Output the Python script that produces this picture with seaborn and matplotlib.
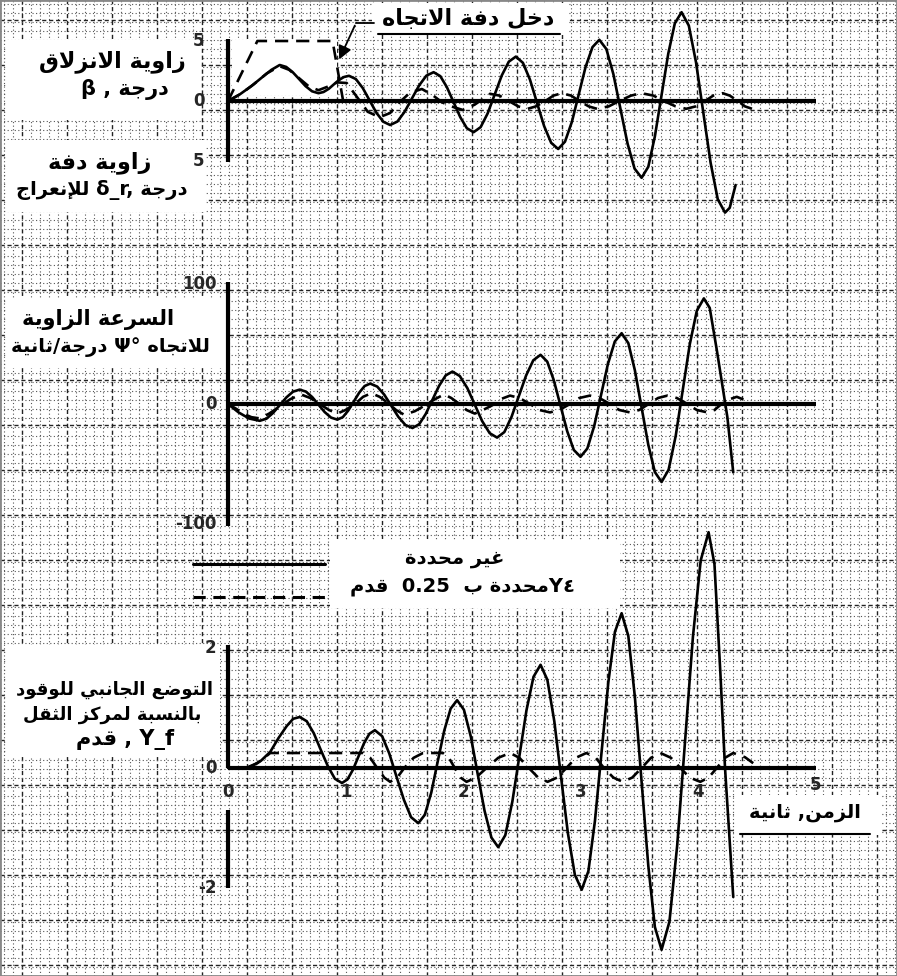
import re
import matplotlib
matplotlib.use('Agg')
import matplotlib.pyplot as plt
from matplotlib.patches import Rectangle
import numpy as np
import seaborn as sns

# ============================================================
# 1. DATA
# ============================================================

# top panel: sideslip angle beta (deg), fuel free
BETA_T = [0, 0.1, 0.2, 0.3, 0.37, 0.44,
          0.495, 0.55, 0.605, 0.66, 0.715, 0.77,
          0.813, 0.857, 0.90, 0.943, 0.987, 1.03,
          1.088, 1.147, 1.205, 1.263, 1.322, 1.38,
          1.442, 1.503, 1.565, 1.627, 1.688, 1.75,
          1.807, 1.863, 1.92, 1.977, 2.033, 2.09,
          2.15, 2.21, 2.27, 2.33, 2.39, 2.45,
          2.51, 2.57, 2.63, 2.69, 2.75, 2.81,
          2.868, 2.927, 2.985, 3.043, 3.102, 3.16,
          3.22, 3.28, 3.34, 3.40, 3.46, 3.52,
          3.577, 3.633, 3.69, 3.747, 3.803, 3.86,
          3.922, 3.983, 4.045, 4.107, 4.168, 4.23,
          4.27, 4.32]
BETA_FREE = [0, 0.55, 1.25, 2.05, 2.6, 3.0,
             2.84, 2.41, 1.83, 1.24, 0.81, 0.65,
             0.75, 1.01, 1.38, 1.74, 2.0, 2.1,
             1.83, 1.08, 0.05, -0.98, -1.73, -2.0,
             -1.71, -0.9, 0.2, 1.3, 2.11, 2.4,
             2.07, 1.15, -0.1, -1.35, -2.27, -2.6,
             -2.18, -1.03, 0.55, 2.13, 3.28, 3.7,
             3.18, 1.78, -0.15, -2.08, -3.48, -4.0,
             -3.39, -1.73, 0.55, 2.83, 4.49, 5.1,
             4.33, 2.23, -0.65, -3.53, -5.63, -6.4,
             -5.48, -2.95, 0.5, 3.95, 6.48, 7.4,
             6.28, 3.23, -0.95, -5.13, -8.18, -9.3,
             -8.9, -7.0]

# top panel: beta with the fuel restrained
BETA_FIX_T = [0, 0.11, 0.22, 0.33, 0.44, 0.52, 0.605, 0.69, 0.77, 0.85,
              0.93, 1.01, 1.10, 1.19, 1.29, 1.38, 1.46, 1.55, 1.65, 1.74,
              1.82, 1.90, 2.0, 2.1, 2.23, 2.31, 2.39, 2.47, 2.55, 2.62,
              2.70, 2.77, 2.84, 2.92, 2.99, 3.07, 3.14, 3.24, 3.33, 3.43,
              3.52, 3.62, 3.71, 3.81, 3.90, 3.98, 4.06, 4.13, 4.21, 4.27,
              4.34, 4.40, 4.46]
BETA_FIX = [0, 0.6, 1.4, 2.3, 2.9, 2.6, 1.9, 1.2, 0.9, 1.2,
            1.55, 1.5, 0.3, -0.9, -1.35, -1.0, -0.1, 0.7, 1.0, 0.5,
            -0.1, -0.45, -0.75, -0.3, 0.6, 0.45, 0.0, -0.45, -0.65, -0.45,
            0.0, 0.45, 0.65, 0.45, 0.0, -0.45, -0.65, -0.45, 0.0, 0.45,
            0.65, 0.45, 0.0, -0.45, -0.65, -0.45, 0.0, 0.45, 0.65, 0.45,
            0.0, -0.45, -0.65]

# top panel: rudder input delta_r (deg)
RUDDER_T = [0, 0.25, 0.89, 0.98]
RUDDER = [0, 5, 5, 0]

# middle panel: yaw rate (deg/s), fuel free
YAW_T = [0, 0.09, 0.18, 0.27,
         0.327, 0.383, 0.44, 0.497, 0.553, 0.61,
         0.663, 0.717, 0.77, 0.823, 0.877, 0.93,
         0.977, 1.023, 1.07, 1.117, 1.163, 1.21,
         1.27, 1.33, 1.39, 1.45, 1.51, 1.57,
         1.627, 1.683, 1.74, 1.797, 1.853, 1.91,
         1.973, 2.037, 2.10, 2.163, 2.227, 2.29,
         2.352, 2.413, 2.475, 2.537, 2.598, 2.66,
         2.717, 2.773, 2.83, 2.887, 2.943, 3.0,
         3.058, 3.117, 3.175, 3.233, 3.292, 3.35,
         3.407, 3.463, 3.52, 3.577, 3.633, 3.69,
         3.75, 3.81, 3.87, 3.93, 3.99, 4.05,
         4.10, 4.16, 4.25, 4.30]
YAW_FREE = [0, -7, -12.1, -14,
            -12.26, -7.5, -1, 5.5, 10.26, 12,
            10.33, 5.75, -0.5, -6.75, -11.33, -13,
            -10.99, -5.5, 2, 9.5, 14.99, 17,
            14.52, 7.75, -1.5, -10.75, -17.52, -20,
            -16.85, -8.25, 3.5, 15.25, 23.85, 27,
            23.3, 13.25, -0.5, -14.25, -24.3, -28,
            -23.38, -10.75, 6.5, 23.75, 36.38, 41,
            35.3, 19.75, -1.5, -22.75, -38.3, -44,
            -37.1, -18.25, 7.5, 33.25, 52.1, 59,
            50.7, 28, -3, -34, -56.7, -65,
            -54.7, -26.75, 11.5, 49.75, 77.75, 88,
            80, 45, -11, -57]

# middle panel: yaw rate with the fuel restrained
YAW_FIX_T = [0, 0.07, 0.13, 0.2, 0.27, 0.35, 0.44, 0.53, 0.62, 0.70,
             0.78, 0.86, 0.93, 1.0, 1.08, 1.15, 1.22, 1.29, 1.36, 1.43,
             1.5, 1.59, 1.68, 1.76, 1.84, 1.9, 1.97, 2.03, 2.1, 2.17,
             2.25, 2.32, 2.4, 2.48, 2.57, 2.65, 2.74, 2.82, 2.91, 2.99,
             3.08, 3.16, 3.25, 3.33, 3.42, 3.50, 3.58, 3.66, 3.74, 3.82,
             3.91, 3.99, 4.08, 4.14, 4.2, 4.27, 4.33, 4.43]
YAW_FIX = [0, -4, -8, -11, -12, -8, -2, 4, 8, 5,
           0, -5, -8, -5, 0, 6, 9, 6, 1, -5,
           -9, -6, -1, 4, 8, 5, 0, -5, -8, -5,
           -1, 4, 7, 5, 0, -5, -7, -5, 0, 5,
           7, 5, 0, -5, -7, -5, 0, 5, 7, 5,
           0, -5, -7, -5, 0, 4, 6, 2]

# bottom panel: lateral position of the fuel relative to c.g. (ft), free
FUEL_T = [0, 0.15, 0.2, 0.28, 0.36, 0.43, 0.5, 0.555, 0.61,
          0.67, 0.73, 0.79, 0.85, 0.91, 0.97,
          1.017, 1.063, 1.11, 1.157, 1.203, 1.25,
          1.312, 1.373, 1.435, 1.497, 1.558, 1.62,
          1.675, 1.73, 1.785, 1.84, 1.895, 1.95,
          2.008, 2.067, 2.125, 2.183, 2.242, 2.30,
          2.36, 2.42, 2.48, 2.54, 2.60, 2.66,
          2.718, 2.777, 2.835, 2.893, 2.952, 3.01,
          3.067, 3.123, 3.18, 3.237, 3.293, 3.35,
          3.407, 3.463, 3.52, 3.577, 3.633, 3.69,
          3.757, 3.823, 3.89, 3.957, 4.023, 4.09,
          4.14, 4.19, 4.23, 4.30]
FUEL_FREE = [0, 0, 0.03, 0.12, 0.27, 0.5, 0.7, 0.82, 0.85,
             0.78, 0.58, 0.3, 0.03, -0.18, -0.25,
             -0.19, -0.03, 0.19, 0.41, 0.57, 0.63,
             0.53, 0.24, -0.15, -0.53, -0.82, -0.92,
             -0.78, -0.41, 0.11, 0.62, 0.99, 1.13,
             0.97, 0.52, -0.1, -0.71, -1.16, -1.32,
             -1.12, -0.56, 0.2, 0.96, 1.52, 1.72,
             1.47, 0.78, -0.16, -1.09, -1.78, -2.03,
             -1.72, -0.88, 0.28, 1.43, 2.27, 2.58,
             2.2, 1.18, -0.23, -1.63, -2.65, -3.03,
             -2.56, -1.29, 0.45, 2.19, 3.46, 3.93,
             3.4, 1.6, 0, -2.15]

# bottom panel: fuel restrained to 0.25 ft
FUEL_FIX_T = [0, 0.15, 0.25, 0.36, 1.15, 1.21, 1.27, 1.33, 1.38, 1.44,
              1.50, 1.58, 1.66, 1.83, 1.88, 1.93, 1.98, 2.03, 2.11, 2.20,
              2.30, 2.40, 2.48, 2.56, 2.64, 2.72, 2.80, 2.88, 2.96, 3.05,
              3.13, 3.20, 3.28, 3.36, 3.44, 3.52, 3.60, 3.68, 3.77, 3.85,
              3.93, 4.02, 4.09, 4.16, 4.23, 4.30, 4.40, 4.47]
FUEL_FIX = [0, 0, 0.08, 0.25, 0.25, 0.17, 0.0, -0.16, -0.23, -0.16,
            0.0, 0.17, 0.25, 0.25, 0.17, 0.0, -0.16, -0.23, -0.16, 0.0,
            0.17, 0.25, 0.17, 0.0, -0.16, -0.23, -0.16, 0.0, 0.17, 0.25,
            0.17, 0.0, -0.16, -0.23, -0.16, 0.0, 0.17, 0.25, 0.17, 0.0,
            -0.16, -0.23, -0.16, 0.0, 0.17, 0.25, 0.18, 0.08]

TOP_TICKS = [5, 0, -5]
TOP_TICK_LABELS = ['5', '0', '5']
MID_TICKS = [100, 0, -100]
MID_TICK_LABELS = ['100', '0', '-100']
BOT_TICKS = [2, 0, -2]
BOT_TICK_LABELS = ['2', '0', '-2']
TIME_TICKS = [0, 1, 2, 3, 4, 5]

# ============================================================
# 2. ARABIC TEXT (shaping + right-to-left order by hand,
#    matplotlib does not do it)
# ============================================================

FORMS = {
    'ء': (0xFE80, 0), 'آ': (0xFE81, 1), 'أ': (0xFE83, 1), 'ؤ': (0xFE85, 1),
    'إ': (0xFE87, 1), 'ئ': (0xFE89, 2), 'ا': (0xFE8D, 1), 'ب': (0xFE8F, 2),
    'ة': (0xFE93, 1), 'ت': (0xFE95, 2), 'ث': (0xFE99, 2), 'ج': (0xFE9D, 2),
    'ح': (0xFEA1, 2), 'خ': (0xFEA5, 2), 'د': (0xFEA9, 1), 'ذ': (0xFEAB, 1),
    'ر': (0xFEAD, 1), 'ز': (0xFEAF, 1), 'س': (0xFEB1, 2), 'ش': (0xFEB5, 2),
    'ص': (0xFEB9, 2), 'ض': (0xFEBD, 2), 'ط': (0xFEC1, 2), 'ظ': (0xFEC5, 2),
    'ع': (0xFEC9, 2), 'غ': (0xFECD, 2), 'ف': (0xFED1, 2), 'ق': (0xFED5, 2),
    'ك': (0xFED9, 2), 'ل': (0xFEDD, 2), 'م': (0xFEE1, 2), 'ن': (0xFEE5, 2),
    'ه': (0xFEE9, 2), 'و': (0xFEED, 1), 'ى': (0xFEEF, 1), 'ي': (0xFEF1, 2),
}
LAM_ALEF = {'آ': 0xFEF5, 'أ': 0xFEF7, 'إ': 0xFEF9, 'ا': 0xFEFB}
LTR = r'A-Za-z0-9_.Ψβδ°\-'


def shape(s):
    out, i = [], 0
    while i < len(s):
        c = s[i]
        if c not in FORMS:
            out.append(c)
            i += 1
            continue
        prev = i > 0 and s[i - 1] in FORMS and FORMS[s[i - 1]][1] == 2
        if c == 'ل' and i + 1 < len(s) and s[i + 1] in LAM_ALEF:
            out.append(chr(LAM_ALEF[s[i + 1]] + (1 if prev else 0)))
            i += 2
            continue
        base, kind = FORMS[c]
        nxt = kind == 2 and i + 1 < len(s) and s[i + 1] in FORMS
        if kind == 0:
            code = base
        elif kind == 1:
            code = base + (1 if prev else 0)
        else:
            code = base + (3 if prev and nxt else 1 if prev else 2 if nxt else 0)
        out.append(chr(code))
        i += 1
    return ''.join(out)


def ar(s):
    # right-to-left line
    runs = re.findall(f'[{LTR}]+|[^{LTR}]+', shape(s))
    return ''.join(r if re.match(f'[{LTR}]', r) else r[::-1]
                   for r in reversed(runs))


def ar_ltr(s):
    # left-to-right line holding arabic words (as printed in the scan)
    return ' '.join(ar(w) if any(c in FORMS for c in w) else w
                    for w in s.split(' '))

# ============================================================
# 3. FIGURE
# ============================================================

sns.set_style('white')
plt.rcParams['font.family'] = ['DejaVu Sans']

W, H = 897, 976
X0, PX_PER_S = 228, 117.5

fig = plt.figure(figsize=(W / 100, H / 100), dpi=100)

# graph-paper background in pixel units
bg = fig.add_axes([0, 0, 1, 1])
bg.set_xlim(0, W)
bg.set_ylim(H, 0)
bg.set_xticks(np.arange(4, W, 9), minor=True)
bg.set_yticks(np.arange(4, H, 9), minor=True)
bg.set_xticks(np.arange(22, W, 45))
bg.set_yticks(np.arange(20, H, 45))
bg.grid(which='minor', color='#555555', lw=0.8, ls=(0, (1, 2.2)))
bg.grid(which='major', color='#222222', lw=1.0, ls=(0, (3, 2)))
bg.tick_params(which='both', length=0, labelbottom=False, labelleft=False)
bg.set_axisbelow(True)
for s in bg.spines.values():
    s.set_edgecolor('#888888')
    s.set_linewidth(2)

# clean white areas behind the labels
for x, y, w, h in [(6, 40, 195, 80), (6, 140, 200, 72), (372, 3, 196, 32),
                   (6, 298, 220, 70), (330, 540, 290, 68),
                   (6, 645, 214, 112), (735, 795, 145, 40), (232, 40, 105, 55)]:
    bg.add_patch(Rectangle((x, y), w, h, facecolor='white', edgecolor='none', zorder=1))

TXT = dict(fontweight='bold', color='black', zorder=3, ha='center', va='center')
bg.text(468, 18, ar('دخل دفة الاتجاه'), fontsize=16, **TXT)
bg.plot([378, 560], [34, 34], color='black', lw=1.5, zorder=3)
bg.plot([374, 356], [23, 23], color='black', lw=1.3, zorder=3)
bg.annotate('', xy=(338, 62), xytext=(356, 23), zorder=3,
            arrowprops=dict(arrowstyle='-|>', color='black', lw=1.3,
                            mutation_scale=20))

bg.text(112, 62, ar('زاوية الانزلاق'), fontsize=16, **TXT)
bg.text(125, 90, ar('درجة , β'), fontsize=15, **TXT)
bg.text(100, 163, ar('زاوية دفة'), fontsize=16, **TXT)
bg.text(102, 190, ar_ltr('للإنعراج δ_r, درجة'), fontsize=14, **TXT)
bg.text(98, 320, ar('السرعة الزاوية'), fontsize=15, **TXT)
bg.text(110, 347, ar('للاتجاه Ψ° درجة/ثانية'), fontsize=14, **TXT)
bg.text(114, 690, ar('التوضع الجانبي للوقود'), fontsize=13, **TXT)
bg.text(112, 715, ar('بالنسبة لمركز الثقل'), fontsize=13, **TXT)
bg.text(125, 740, ar('Y_f , قدم'), fontsize=15, **TXT)
bg.text(805, 812, ar('الزمن, ثانية'), fontsize=14, **TXT)
bg.plot([740, 870], [834, 834], color='black', lw=1.5, zorder=3)

# legend
bg.plot([193, 325], [564, 564], color='black', lw=2.2, zorder=3)
bg.plot([193, 328], [597, 597], color='black', lw=2.2, ls=(0, (4, 2.5)), zorder=3)
bg.text(455, 558, ar('غير محددة'), fontsize=14, **TXT)
bg.text(462, 586, ar('٤Yمحددة ب  0.25  قدم'), fontsize=14, **TXT)


def panel(top_px, bot_px, zero_px, px_per_unit):
    ax = fig.add_axes([0, 1 - bot_px / H, 1, (bot_px - top_px) / H])
    ax.set_xlim(-X0 / PX_PER_S, (W - X0) / PX_PER_S)
    ax.set_ylim((zero_px - bot_px) / px_per_unit, (zero_px - top_px) / px_per_unit)
    ax.axis('off')
    return ax


LINE = dict(color='black', lw=1.9)
DASH = dict(color='black', lw=1.9, linestyle=(0, (5, 3)))

# ---- top panel -------------------------------------------------
ax1 = panel(0, 232, 101, 12)
ax1.vlines(0, min(TOP_TICKS) - 0.1, max(TOP_TICKS) + 0.2, color='black', lw=3)
ax1.hlines(0, 0, TIME_TICKS[-1], color='black', lw=3)
sns.lineplot(x=BETA_T, y=BETA_FREE, ax=ax1, **LINE)
sns.lineplot(x=BETA_FIX_T, y=BETA_FIX, ax=ax1, **DASH)
sns.lineplot(x=RUDDER_T, y=RUDDER, ax=ax1, **DASH)
for v, lab in zip(TOP_TICKS, TOP_TICK_LABELS):
    ax1.text(-0.2, v, lab, fontsize=12, fontweight='bold', ha='right', va='center')

# ---- middle panel ----------------------------------------------
ax2 = panel(232, 540, 404, 1.2)
ax2.vlines(0, min(MID_TICKS) - 2, max(MID_TICKS) + 2, color='black', lw=3)
ax2.hlines(0, 0, TIME_TICKS[-1], color='black', lw=3)
sns.lineplot(x=YAW_T, y=YAW_FREE, ax=ax2, **LINE)
sns.lineplot(x=YAW_FIX_T, y=YAW_FIX, ax=ax2, **DASH)
for v, lab in zip(MID_TICKS, MID_TICK_LABELS):
    ax2.text(-0.1, v, lab, fontsize=12, fontweight='bold', ha='right', va='center')

# ---- bottom panel ----------------------------------------------
ax3 = panel(520, 976, 768, 60)
ax3.vlines(0, 0, max(BOT_TICKS) + 0.05, color='black', lw=3)
ax3.vlines(0, min(BOT_TICKS), -0.7, color='black', lw=3)
ax3.hlines(0, 0, TIME_TICKS[-1], color='black', lw=3)
sns.lineplot(x=FUEL_T, y=FUEL_FREE, ax=ax3, **LINE)
sns.lineplot(x=FUEL_FIX_T, y=FUEL_FIX, ax=ax3, **DASH)
for v, lab in zip(BOT_TICKS, BOT_TICK_LABELS):
    ax3.text(-0.1, v, lab, fontsize=12, fontweight='bold', ha='right', va='center')
for t in TIME_TICKS:
    ax3.text(t, -0.28 if t == TIME_TICKS[-1] else -0.4, str(t), fontsize=12,
             fontweight='bold', ha='center', va='center')

fig.savefig('out.png', dpi=100)
